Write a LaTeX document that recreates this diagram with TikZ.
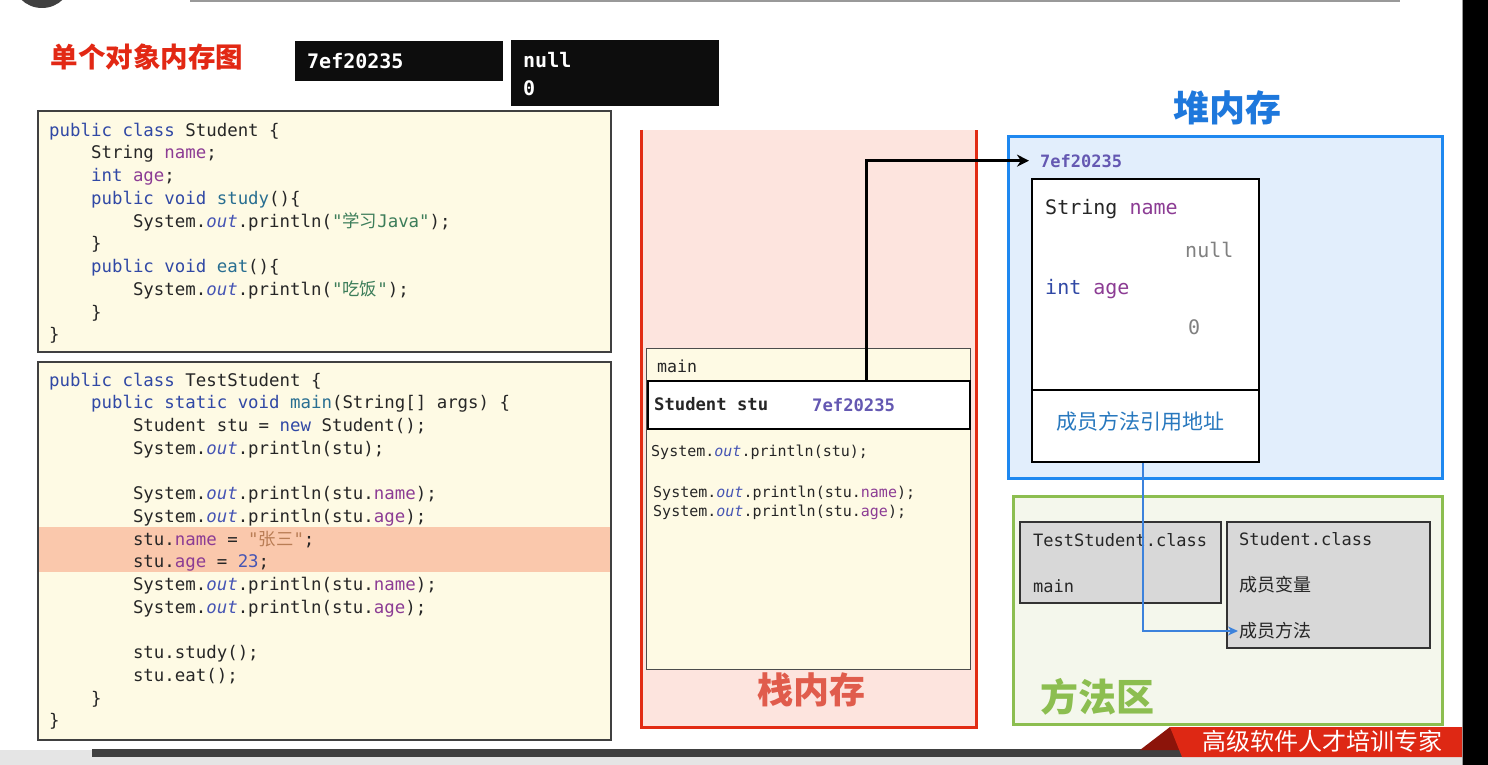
\documentclass[tikz,border=0pt]{standalone}
\usepackage{fontspec}
\setmainfont{DejaVu Sans}
\setmonofont{DejaVu Sans Mono}
\newfontfamily\cjk{Noto Sans CJK SC}
\usetikzlibrary{arrows.meta, positioning, fit, calc}

\definecolor{codebg}{RGB}{254,250,228}
\definecolor{hlband}{RGB}{250,200,172}
\definecolor{kwblue}{RGB}{48,72,165}
\definecolor{fdpurple}{RGB}{140,60,148}
\definecolor{mtteal}{RGB}{40,110,145}
\definecolor{outblue}{RGB}{70,85,180}
\definecolor{strgreen}{RGB}{60,125,90}
\definecolor{strbrown}{RGB}{185,125,85}
\definecolor{addrpurple}{RGB}{100,88,178}
\definecolor{stackfill}{RGB}{253,228,222}
\definecolor{stackred}{RGB}{226,44,20}
\definecolor{stacktitle}{RGB}{224,92,76}
\definecolor{heapfill}{RGB}{226,238,252}
\definecolor{heapblue}{RGB}{30,136,240}
\definecolor{heaptitle}{RGB}{30,120,220}
\definecolor{methfill}{RGB}{244,247,236}
\definecolor{methgreen}{RGB}{140,190,80}
\definecolor{classgray}{RGB}{216,216,216}
\definecolor{linkblue}{RGB}{60,130,220}
\definecolor{refblue}{RGB}{40,120,190}
\definecolor{titlered}{RGB}{226,40,20}
\definecolor{bannerred}{RGB}{222,40,20}
\definecolor{bannerdark}{RGB}{140,20,10}

\newcommand\tb{\phantom{0000}}
\newcommand\jkw[1]{\textcolor{kwblue}{#1}}
\newcommand\jfd[1]{\textcolor{fdpurple}{#1}}
\newcommand\jmt[1]{\textcolor{mtteal}{#1}}
\newcommand\jstr[1]{\textcolor{strgreen}{#1}}
\newcommand\jout{\textcolor{outblue}{\itshape out}}

\tikzset{
  codebox/.style={rectangle, draw=black!75, line width=1.4pt, fill=codebg, inner sep=0pt},
  codeline/.style={anchor=base west, inner sep=0pt, text=black!85, font=\fontsize{17.4}{20}\selectfont\ttfamily},
  stackline/.style={codeline, font=\fontsize{15}{18}\selectfont\ttfamily},
  heapline/.style={codeline, font=\fontsize{20}{24}\selectfont\ttfamily},
  valbox/.style={rectangle, fill=black!95, inner sep=0pt},
  valtext/.style={anchor=base west, inner sep=0pt, text=white, font=\fontsize{20}{24}\selectfont\ttfamily\bfseries},
  classbox/.style={rectangle, draw=black!80, line width=1.5pt, fill=classgray, inner sep=0pt},
  cjktext/.style={inner sep=0pt, font=\fontsize{18}{22}\selectfont\cjk},
  areatitle/.style={inner sep=0pt, font=\fontsize{36}{40}\selectfont\cjk\bfseries},
  refarrow/.style={-{Stealth[length=12pt,width=12pt]}, line width=3pt, draw=black},
  methlink/.style={-{Stealth[length=10pt,width=9pt]}, line width=2.5pt, draw=linkblue}
}

\begin{document}
\begin{tikzpicture}[x=1pt, y=-1pt]
\useasboundingbox (0,0) rectangle (1488,765);
\fill[white] (0,0) rectangle (1488,765);

% screen edges
\fill[black!75] (42,-22) circle (30);
\draw[black!40, line width=1.5pt] (190,1) -- (1400,1);
\fill[black] (1463,0) rectangle (1488,765);
\draw[black!40, line width=1pt] (1462,0) -- (1462,765);
\fill[black!10] (0,750) rectangle (1462,765);
\fill[black!75] (92,749) rectangle (1190,757);

% title and values
\node[inner sep=0pt, text=titlered, font=\fontsize{27.5}{30}\selectfont\cjk\bfseries] (title) at (147,57) {单个对象内存图};
\node[valbox, fit={(295,41) (503,81)}] (addrbox) {};
\node[valbox, fit={(511,40) (719,106)}] (initbox) {};
\node[valtext] (addrval) at (307,69) {7ef20235};
\node[valtext] (nullval) at (523,68) {null};
\node[valtext] (zeroval) at (523,96) {0};

% Student.java
\node[codebox, fit={(38,111) (611,352)}] (stuclass) {};
\foreach \ln [count=\i from 0] in {
  {\jkw{public} \jkw{class} Student \{},
  {\tb String \jfd{name};},
  {\tb\jkw{int} \jfd{age};},
  {\tb\jkw{public} \jkw{void} \jmt{study}()\{},
  {\tb\tb System.\jout.println(\jstr{"{\cjk 学习}Java"});},
  {\tb\}},
  {\tb\jkw{public} \jkw{void} \jmt{eat}()\{},
  {\tb\tb System.\jout.println(\jstr{"{\cjk 吃饭}"});},
  {\tb\}},
  {\}}
} \node[codeline] (sline\i) at (49,136+22.75*\i) {\ln};

% TestStudent.java
\node[codebox, fit={(38,362) (611,740)}] (testclass) {};
\fill[hlband] (39,527) rectangle (610,572);
\foreach \ln [count=\i from 0] in {
  {\jkw{public} \jkw{class} TestStudent \{},
  {\tb\jkw{public} \jkw{static} \jkw{void} \jmt{main}(String[] args) \{},
  {\tb\tb Student stu = \jkw{new} Student();},
  {\tb\tb System.\jout.println(stu);},
  {},
  {\tb\tb System.\jout.println(stu.\jfd{name});},
  {\tb\tb System.\jout.println(stu.\jfd{age});},
  {\tb\tb stu.\jfd{name} = \textcolor{strbrown}{"{\cjk 张三}"};},
  {\tb\tb stu.\jfd{age} = \textcolor{outblue}{23};},
  {\tb\tb System.\jout.println(stu.\jfd{name});},
  {\tb\tb System.\jout.println(stu.\jfd{age});},
  {},
  {\tb\tb stu.study();},
  {\tb\tb stu.eat();},
  {\tb\}},
  {\}}
} \node[codeline] (tline\i) at (49,386+22.73*\i) {\ln};

% stack
\fill[stackfill] (641,130) rectangle (976,727);
\draw[stackred, line width=3pt] (641,130) -- (641,727) -- (976,727) -- (976,130);
\node[areatitle, text=stacktitle] (stacklbl) at (811,690) {栈内存};
\node[codebox, draw=black!70, line width=1pt, fit={(646,348) (970,669)}] (mainframe) {};
\node[codeline, font=\fontsize{16.6}{20}\selectfont\ttfamily] (mainlbl) at (657,372) {main};
\node[rectangle, draw=black, fill=white, line width=2.5pt, inner sep=0pt, fit={(648,381) (970,429)}] (stuvar) {};
\node[codeline, font=\fontsize{17.2}{20}\selectfont\ttfamily\bfseries] (stuname) at (654,410) {Student stu};
\node[codeline, text=addrpurple, font=\fontsize{17.2}{20}\selectfont\ttfamily\bfseries] (stuaddr) at (812,411) {7ef20235};
\node[stackline] (prt1) at (651,456) {System.\jout.println(stu);};
\node[stackline] (prt2) at (653,497) {System.\jout.println(stu.\jfd{name});};
\node[stackline] (prt3) at (653,516) {System.\jout.println(stu.\jfd{age});};

% heap
\node[areatitle, text=heaptitle] (heaplbl) at (1227,108) {堆内存};
\node[rectangle, draw=heapblue, fill=heapfill, line width=3pt, inner sep=0pt, fit={(1008,137) (1442,478)}] (heap) {};
\node[codeline, text=addrpurple, font=\fontsize{17}{20}\selectfont\ttfamily\bfseries] (heapaddr) at (1040,167) {7ef20235};
\node[rectangle, draw=black, fill=white, line width=2.5pt, inner sep=0pt, fit={(1032,179) (1259,462)}] (objbox) {};
\draw[line width=2.5pt] (objbox.west |- 0,390) -- (objbox.east |- 0,390);
\node[heapline] (fname) at (1045,214) {String \jfd{name}};
\node[heapline, text=black!50] (fnull) at (1185,257) {null};
\node[heapline] (fage) at (1045,294) {\jkw{int} \jfd{age}};
\node[heapline, text=black!50] (fzero) at (1188,334) {0};
\node[cjktext, text=refblue, font=\fontsize{21}{24}\selectfont\cjk] (methref) at (1140,422) {成员方法引用地址};

% method area
\node[rectangle, draw=methgreen, fill=methfill, line width=3pt, inner sep=0pt, fit={(1013,496) (1442,724)}] (metharea) {};
\node[areatitle, text=methgreen, font=\fontsize{38}{42}\selectfont\cjk\bfseries] (methlbl) at (1097,697) {方法区};
\node[classbox, fit={(1020,522) (1221,603)}] (testcls) {};
\node[codeline, font=\fontsize{17}{20}\selectfont\ttfamily] (testname) at (1033,546) {TestStudent.class};
\node[codeline, font=\fontsize{17}{20}\selectfont\ttfamily] (testmain) at (1033,592) {main};
\node[classbox, fit={(1227,522) (1430,648)}] (stucls) {};
\node[codeline, font=\fontsize{17}{20}\selectfont\ttfamily] (stuclsname) at (1239,545) {Student.class};
\node[cjktext, anchor=west, text=black!85] (stufield) at (1239,585) {成员变量};
\node[cjktext, anchor=west, text=black!85] (stumeth) at (1239,631) {成员方法};

% connectors
\coordinate (refx) at (866,0);
\coordinate (linkx) at (1143,0);
\draw[refarrow, shorten >=11pt] (stuvar.north -| refx) |- (heapaddr.west);
\draw[methlink, shorten >=1pt] (objbox.south -| linkx) |- (stumeth.west);

% banner
\fill[bannerdark] (1140,750) -- (1170,727) -- (1182,750) -- cycle;
\fill[bannerred] (1170,727) -- (1462,727) -- (1462,757) -- (1182,757) -- cycle;
\node[inner sep=0pt, text=white, font=\fontsize{24}{26}\selectfont\cjk] (banner) at (1322,741) {高级软件人才培训专家};
\end{tikzpicture}
\end{document}
